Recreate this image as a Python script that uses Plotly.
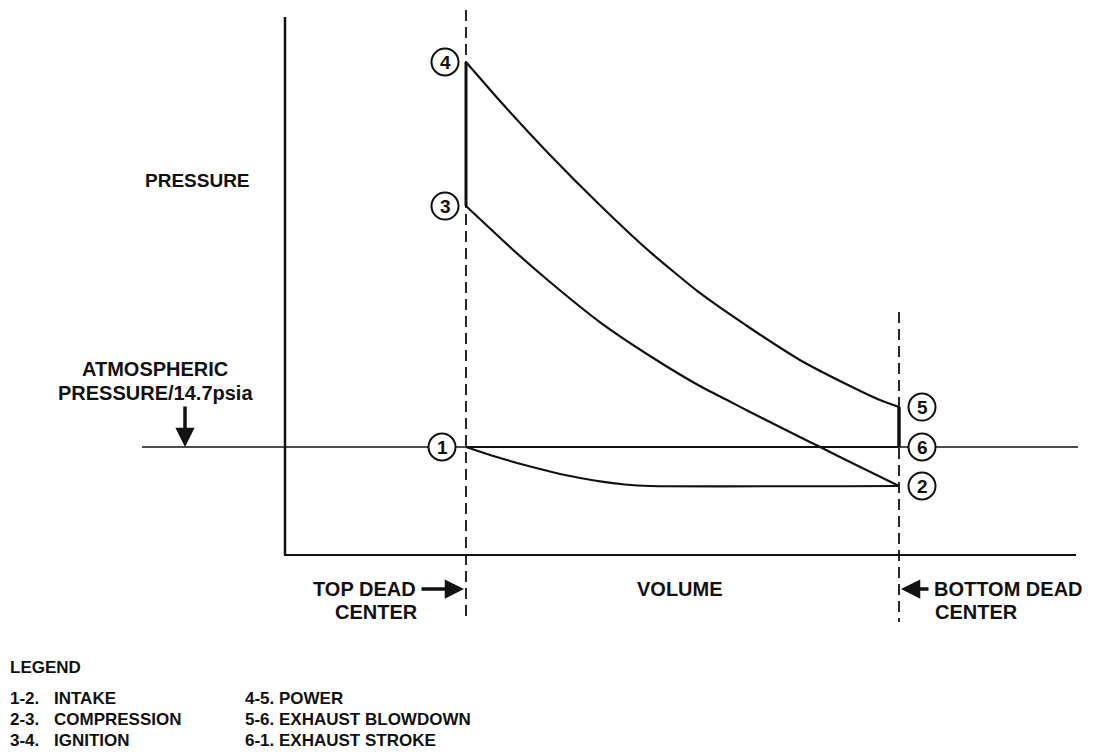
import plotly.graph_objects as go

# ---------------- data ----------------
# pressure relative to atmosphere (1.0 = 14.7 psia), volume: 0 = TDC, 1 = BDC
state_labels = ["1", "2", "3", "4", "5", "6"]
state_volume = [0.0, 1.0, 0.0, 0.0, 1.0, 1.0]
state_pressure = [1.0, 0.639, 3.231, 4.565, 1.370, 1.0]

intake_volume = [0.0, 0.0554, 0.1178, 0.1709, 0.2171, 0.2633, 0.3095, 0.3672, 0.4249, 1.0]
intake_pressure = [1.0, 0.926, 0.852, 0.796, 0.750, 0.713, 0.681, 0.653, 0.639, 0.639]

compression_volume = [1.0, 0.887, 0.818, 0.771, 0.656, 0.603, 0.540, 0.425, 0.309, 0.194, 0.109, 0.0]
compression_pressure = [0.639, 0.861, 1.0, 1.093, 1.324, 1.435, 1.565, 1.843, 2.157, 2.528, 2.824, 3.231]

ignition_volume = [0.0, 0.0]
ignition_pressure = [3.231, 4.565]

power_volume = [0.0, 0.0785, 0.194, 0.309, 0.425, 0.540, 0.656, 0.771, 0.887, 0.956, 1.0]
power_pressure = [4.565, 4.204, 3.704, 3.241, 2.806, 2.426, 2.102, 1.806, 1.565, 1.435, 1.370]

blowdown_volume = [1.0, 1.0]
blowdown_pressure = [1.370, 1.0]

exhaust_volume = [1.0, 0.0]
exhaust_pressure = [1.0, 1.0]

atmospheric_pressure = 1.0

legend_numbers = ["1-2.", "2-3.", "3-4.", "4-5.", "5-6.", "6-1."]
legend_names = ["INTAKE", "COMPRESSION", "IGNITION", "POWER", "EXHAUST BLOWDOWN", "EXHAUST STROKE"]

# ---------------- layout helpers ----------------
W, H = 1101, 753
X0_PX, PX_PER_V = 466, 433      # TDC pixel, pixels per unit volume
Y0_PX, PX_PER_P = 555, 108      # zero-pressure pixel, pixels per unit pressure


def vx(px):
    return (px - X0_PX) / PX_PER_V


def py(pix):
    return (Y0_PX - pix) / PX_PER_P


FONT = "Liberation Sans, Arial, Helvetica, sans-serif"
INK = "#111111"
FS_LABEL = 20
FS_LEGEND = 17

fig = go.Figure()

for xs, ys, w, shape in [
    (intake_volume, intake_pressure, 2.2, "spline"),
    (compression_volume, compression_pressure, 2.2, "spline"),
    (ignition_volume, ignition_pressure, 3.0, "linear"),
    (power_volume, power_pressure, 2.2, "spline"),
    (blowdown_volume, blowdown_pressure, 3.5, "linear"),
    (exhaust_volume, exhaust_pressure, 2.2, "linear"),
]:
    fig.add_trace(go.Scatter(x=xs, y=ys, mode="lines",
                             line=dict(color=INK, width=w, shape=shape, smoothing=0.5),
                             hoverinfo="skip", showlegend=False))

shapes = []
# pressure axis and volume axis
shapes.append(dict(type="line", xref="x", yref="y", x0=vx(285), x1=vx(285), y0=py(17), y1=0,
                   line=dict(color=INK, width=2.5)))
shapes.append(dict(type="line", xref="x", yref="y", x0=vx(284), x1=vx(1076), y0=0, y1=0,
                   line=dict(color=INK, width=2)))
# atmospheric line
shapes.append(dict(type="line", xref="x", yref="y", x0=vx(142), x1=vx(1078),
                   y0=atmospheric_pressure, y1=atmospheric_pressure,
                   line=dict(color=INK, width=1.6), layer="below"))
# TDC and BDC dashed lines
shapes.append(dict(type="line", xref="x", yref="y", x0=0, x1=0, y0=py(10), y1=py(622),
                   line=dict(color=INK, width=1.8, dash="11px,6px"), layer="below"))
shapes.append(dict(type="line", xref="x", yref="y", x0=1, x1=1, y0=py(312), y1=py(622),
                   line=dict(color=INK, width=1.8, dash="11px,6px"), layer="below"))

# state circles
label_offsets = {"1": -24, "2": 23, "3": -21, "4": -21, "5": 23, "6": 23}
R = 13.5
annotations = []
for lab, v, p in zip(state_labels, state_volume, state_pressure):
    cx = X0_PX + v * PX_PER_V + label_offsets[lab]
    cy = Y0_PX - p * PX_PER_P
    shapes.append(dict(type="circle", xref="x", yref="y",
                       x0=vx(cx - R), x1=vx(cx + R), y0=py(cy - R), y1=py(cy + R),
                       line=dict(color=INK, width=2), fillcolor="white", layer="above"))
    annotations.append(dict(x=vx(cx), y=py(cy + 0.5), xref="x", yref="y", text=lab, showarrow=False,
                            xanchor="center", yanchor="middle",
                            font=dict(family=FONT, size=19, color=INK, weight="bold")))


def txt(x, y, s, anchor="left", size=FS_LABEL):
    annotations.append(dict(x=vx(x), y=py(y), xref="x", yref="y", text=s, showarrow=False,
                            xanchor=anchor, yanchor="middle",
                            font=dict(family=FONT, size=size, color=INK, weight="bold")))


txt(143, 180, "PRESSURE", size=19)
txt(155, 369, "ATMOSPHERIC", "center")
txt(155, 393, "PRESSURE/14.7psia", "center")
txt(418, 589, "TOP DEAD", "right")
txt(376, 612, "CENTER", "center")
txt(680, 589, "VOLUME", "center")
txt(932, 589, "BOTTOM DEAD", "left")
txt(976, 612, "CENTER", "center")
txt(8, 667, "LEGEND", size=FS_LEGEND)

rows_y = [698, 719, 740]
for i, (num, name) in enumerate(zip(legend_numbers, legend_names)):
    col = i // 3
    y = rows_y[i % 3]
    if col == 0:
        txt(8, y, num, size=FS_LEGEND)
        txt(52, y, name, size=FS_LEGEND)
    else:
        txt(243, y, num + " " + name, size=FS_LEGEND)

# arrows
arrow_style = dict(showarrow=True, arrowhead=2, arrowsize=1.1, arrowwidth=3.5, arrowcolor=INK,
                   text="", xref="x", yref="y", axref="pixel", ayref="pixel")
annotations.append(dict(x=vx(185), y=atmospheric_pressure, ax=0, ay=-42, **arrow_style))
annotations.append(dict(x=vx(464), y=py(589), ax=-44, ay=0, **arrow_style))
annotations.append(dict(x=vx(901), y=py(589), ax=29, ay=0, **arrow_style))

fig.update_layout(
    width=W, height=H,
    margin=dict(l=0, r=0, t=0, b=0),
    paper_bgcolor="white", plot_bgcolor="white",
    xaxis=dict(range=[vx(0), vx(W)], visible=False, fixedrange=True),
    yaxis=dict(range=[py(H), py(0)], visible=False, fixedrange=True),
    shapes=shapes, annotations=annotations, showlegend=False,
)

fig.write_html("out.html", config={"displayModeBar": False},
               post_script="document.body.style.margin='0';document.body.style.overflow='hidden';")
